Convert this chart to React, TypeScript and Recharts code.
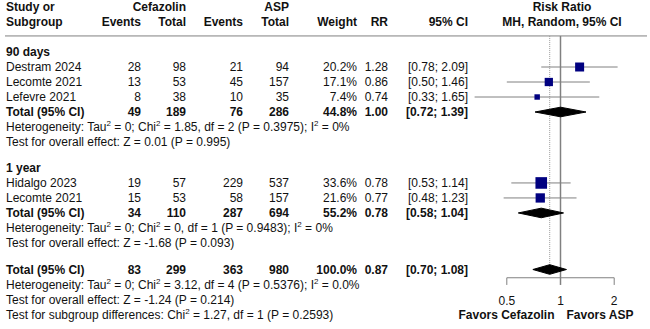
import React from 'react';
import { ComposedChart, XAxis, YAxis, Scatter, ErrorBar, ReferenceLine } from 'recharts';

// ---------- data ----------
const groupLabels = ['90 days', '1 year'];
const studyNames = ['Destram 2024', 'Lecomte 2021', 'Lefevre 2021', 'Hidalgo 2023', 'Lecomte 2021'];
const studyGroup = [0, 0, 0, 1, 1];
const cefEvents = [28, 13, 8, 19, 15];
const cefTotal = [98, 53, 38, 57, 53];
const aspEvents = [21, 45, 10, 229, 58];
const aspTotal = [94, 157, 35, 537, 157];
const studyWeight = [20.2, 17.1, 7.4, 33.6, 21.6];
const studyRR = [1.28, 0.86, 0.74, 0.78, 0.77];
const studyLow = [0.78, 0.5, 0.33, 0.53, 0.48];
const studyHigh = [2.09, 1.46, 1.65, 1.14, 1.23];

// subgroup totals (90 days, 1 year) then overall
const totCefEvents = [49, 34, 83];
const totCefTotal = [189, 110, 299];
const totAspEvents = [76, 287, 363];
const totAspTotal = [286, 694, 980];
const totWeight = [44.8, 55.2, 100.0];
const totRR = [1.0, 0.78, 0.87];
const totLow = [0.72, 0.58, 0.7];
const totHigh = [1.39, 1.04, 1.08];
const heterogeneity = [
  'Heterogeneity: Tau^2 = 0; Chi^2 = 1.85, df = 2 (P = 0.3975); I^2 = 0%',
  'Heterogeneity: Tau^2 = 0; Chi^2 = 0, df = 1 (P = 0.9483); I^2 = 0%',
  'Heterogeneity: Tau^2 = 0; Chi^2 = 3.12, df = 4 (P = 0.5376); I^2 = 0.0%',
];
const overallEffect = [
  'Test for overall effect: Z = 0.01 (P = 0.995)',
  'Test for overall effect: Z = -1.68 (P = 0.093)',
  'Test for overall effect: Z = -1.24 (P = 0.214)',
];
const subgroupTest = 'Test for subgroup differences: Chi^2 = 1.27, df = 1 (P = 0.2593)';
const xTicks = [0.5, 1, 2];
const xTickLabels = ['0.5', '1', '2'];
const favorsLabels = ['Favors Cefazolin', 'Favors ASP'];

// ---------- layout constants ----------
const W = 650;
const H = 329;
const FONT = 'Liberation Sans, Arial, sans-serif';
const FS = 12;
const COL = { study: 6, cefEv: 141, cefTot: 186, aspEv: 243, aspTot: 289, weight: 357, rr: 388, ci: 468, plotCenter: 562 };
const PLOT_L = 5;
const PLOT_R = 3;
const PX_ONE = 560.5;
const PX_PER_DOUBLING = 53.7;
const X_LO = Math.pow(2, (PLOT_L - PX_ONE) / PX_PER_DOUBLING);
const X_HI = Math.pow(2, (W - PLOT_R - PX_ONE) / PX_PER_DOUBLING);
const ROW_PX = 15;
const TOP_PX = 7;
const Y_LO = -TOP_PX / ROW_PX;
const Y_HI = Y_LO + H / ROW_PX;
const HEADER_LINE_ROW = 1.93;
const AXIS_ROW = 18.05;
const TICK_END_ROW = 18.53;
const TICK_LABEL_ROW = 19.6;
const DIAMOND_HALF = 0.32;

const fmtCI = (lo: number, hi: number) => `[${lo.toFixed(2)}; ${hi.toFixed(2)}]`;

// ---------- build rows ----------
type Row = { x: number; y: number; kind: string; cells?: any; text?: string };
const tableRows: Row[] = [];
const studyPoints: any[] = [];
const diamonds: any[][] = [];

let r = 0;
tableRows.push({ x: 1, y: r, kind: 'header0' });
r += 1;
tableRows.push({ x: 1, y: r, kind: 'header1' });
r += 2;
const groupGap = [0.73, 0.77];
groupLabels.forEach((g, gi) => {
  tableRows.push({ x: 1, y: r, kind: 'group', text: g });
  r += 1;
  studyNames.forEach((name, i) => {
    if (studyGroup[i] !== gi) return;
    tableRows.push({
      x: 1, y: r, kind: 'study',
      cells: [name, cefEvents[i], cefTotal[i], aspEvents[i], aspTotal[i], studyWeight[i].toFixed(1) + '%', studyRR[i].toFixed(2), fmtCI(studyLow[i], studyHigh[i])],
    });
    studyPoints.push({ x: studyRR[i], y: r, w: studyWeight[i], err: [studyRR[i] - studyLow[i], studyHigh[i] - studyRR[i]] });
    r += 1;
  });
  tableRows.push({
    x: 1, y: r, kind: 'total',
    cells: ['Total (95% CI)', totCefEvents[gi], totCefTotal[gi], totAspEvents[gi], totAspTotal[gi], totWeight[gi].toFixed(1) + '%', totRR[gi].toFixed(2), fmtCI(totLow[gi], totHigh[gi])],
  });
  diamonds.push([
    { x: totLow[gi], y: r }, { x: totRR[gi], y: r - DIAMOND_HALF }, { x: totHigh[gi], y: r }, { x: totRR[gi], y: r + DIAMOND_HALF }, { x: totLow[gi], y: r },
  ]);
  r += 1;
  tableRows.push({ x: 1, y: r, kind: 'note', text: heterogeneity[gi] });
  r += 1;
  tableRows.push({ x: 1, y: r, kind: 'note', text: overallEffect[gi] });
  r += 1 + groupGap[gi];
});
const OV = 2;
const overallRow = r;
tableRows.push({
  x: 1, y: r, kind: 'total',
  cells: ['Total (95% CI)', totCefEvents[OV], totCefTotal[OV], totAspEvents[OV], totAspTotal[OV], totWeight[OV].toFixed(1) + '%', totRR[OV].toFixed(2), fmtCI(totLow[OV], totHigh[OV])],
});
diamonds.push([
  { x: totLow[OV], y: r }, { x: totRR[OV], y: r - DIAMOND_HALF }, { x: totHigh[OV], y: r }, { x: totRR[OV], y: r + DIAMOND_HALF }, { x: totLow[OV], y: r },
]);
r += 1;
tableRows.push({ x: 1, y: r, kind: 'note', text: heterogeneity[OV] });
r += 1;
tableRows.push({ x: 1, y: r, kind: 'note', text: overallEffect[OV] });
r += 1;
tableRows.push({ x: 1, y: r, kind: 'note', text: subgroupTest });
tableRows.push({ x: 1, y: r, kind: 'favors' });

const tickPoints = xTicks.map((t, i) => ({ x: t, y: TICK_LABEL_ROW, label: xTickLabels[i] }));

// ---------- rendering helpers ----------
const renderSup = (s: string) => {
  const parts = s.split('^2');
  const out: any[] = [];
  parts.forEach((p, i) => {
    out.push(<tspan key={'p' + i} dy={i > 0 ? 4 : 0}>{p}</tspan>);
    if (i < parts.length - 1) out.push(<tspan key={'s' + i} dy={-4} fontSize={8}>2</tspan>);
  });
  return out;
};

const T = (props: any) => (
  <text fontFamily={FONT} fontSize={FS} fill="#111" dominantBaseline="central" {...props} />
);

const TableShape = (props: any) => {
  const { cy, cx, payload } = props;
  const k = payload.kind;
  if (k === 'header0') {
    return (
      <g>
        <T x={COL.study} y={cy} fontWeight="bold">Study or</T>
        <T x={COL.cefTot} y={cy} textAnchor="end" fontWeight="bold">Cefazolin</T>
        <T x={COL.aspTot} y={cy} textAnchor="end" fontWeight="bold">ASP</T>
        <T x={COL.plotCenter} y={cy} textAnchor="middle" fontWeight="bold">Risk Ratio</T>
      </g>
    );
  }
  if (k === 'header1') {
    return (
      <g>
        <T x={COL.study} y={cy} fontWeight="bold">Subgroup</T>
        <T x={COL.cefEv} y={cy} textAnchor="end" fontWeight="bold">Events</T>
        <T x={COL.cefTot} y={cy} textAnchor="end" fontWeight="bold">Total</T>
        <T x={COL.aspEv} y={cy} textAnchor="end" fontWeight="bold">Events</T>
        <T x={COL.aspTot} y={cy} textAnchor="end" fontWeight="bold">Total</T>
        <T x={COL.weight} y={cy} textAnchor="end" fontWeight="bold">Weight</T>
        <T x={COL.rr} y={cy} textAnchor="end" fontWeight="bold">RR</T>
        <T x={COL.ci} y={cy} textAnchor="end" fontWeight="bold">95% CI</T>
        <T x={COL.plotCenter} y={cy} textAnchor="middle" fontWeight="bold">MH, Random, 95% CI</T>
      </g>
    );
  }
  if (k === 'group') {
    return <T x={COL.study} y={cy} fontWeight="bold">{payload.text}</T>;
  }
  if (k === 'study' || k === 'total') {
    const c = payload.cells;
    const fw = k === 'total' ? 'bold' : 'normal';
    const xs = [COL.cefEv, COL.cefTot, COL.aspEv, COL.aspTot, COL.weight, COL.rr, COL.ci];
    return (
      <g>
        <T x={COL.study} y={cy} fontWeight={fw}>{c[0]}</T>
        {xs.map((x, i) => (
          <T key={i} x={x} y={cy} textAnchor="end" fontWeight={fw}>{c[i + 1]}</T>
        ))}
      </g>
    );
  }
  if (k === 'note') {
    return <T x={COL.study} y={cy}>{renderSup(payload.text)}</T>;
  }
  if (k === 'favors') {
    return (
      <g>
        <T x={cx - 6} y={cy} textAnchor="end" fontWeight="bold">{favorsLabels[0]}</T>
        <T x={cx + 6} y={cy} textAnchor="start" fontWeight="bold">{favorsLabels[1]}</T>
      </g>
    );
  }
  return <g />;
};

const SquareShape = (props: any) => {
  const { cx, cy, payload } = props;
  const s = 2 * Math.sqrt(payload.w);
  return <rect x={cx - s / 2} y={cy - s / 2} width={s} height={s} fill="#000080" />;
};

const TickLabelShape = (props: any) => {
  const { cx, cy, payload } = props;
  return <T x={cx} y={cy} textAnchor="middle">{payload.label}</T>;
};

const Empty = () => <g />;

export default function App() {
  return (
    <div style={{ position: 'absolute', left: 0, top: 0, width: W, height: H, background: '#fff' }}>
      <ComposedChart width={W} height={H} margin={{ top: 0, right: PLOT_R, bottom: 0, left: PLOT_L }}>
        <XAxis type="number" dataKey="x" scale="log" domain={[X_LO, X_HI]} allowDataOverflow hide />
        <YAxis type="number" dataKey="y" domain={[Y_LO, Y_HI]} allowDataOverflow reversed hide />
        <ReferenceLine y={HEADER_LINE_ROW} stroke="#808080" strokeWidth={1} />
        <ReferenceLine segment={[{ x: 1, y: HEADER_LINE_ROW }, { x: 1, y: TICK_END_ROW }]} stroke="#808080" strokeWidth={1.5} />
        <ReferenceLine segment={[{ x: totRR[OV], y: HEADER_LINE_ROW }, { x: totRR[OV], y: overallRow }]} stroke="#9a9a9a" strokeWidth={1} strokeDasharray="1 1" />
        <ReferenceLine segment={[{ x: xTicks[0], y: AXIS_ROW }, { x: xTicks[2], y: AXIS_ROW }]} stroke="#808080" strokeWidth={1} />
        <ReferenceLine segment={[{ x: xTicks[0], y: AXIS_ROW }, { x: xTicks[0], y: TICK_END_ROW }]} stroke="#808080" strokeWidth={1} />
        <ReferenceLine segment={[{ x: xTicks[2], y: AXIS_ROW }, { x: xTicks[2], y: TICK_END_ROW }]} stroke="#808080" strokeWidth={1} />
        <Scatter data={tableRows} shape={TableShape} isAnimationActive={false} />
        <Scatter data={tickPoints} shape={TickLabelShape} isAnimationActive={false} />
        {diamonds.map((d, i) => (
          <Scatter key={'d' + i} data={d} shape={Empty} line={{ stroke: '#000', fill: '#000', strokeWidth: 1 }} lineType="joint" isAnimationActive={false} />
        ))}
        <Scatter data={studyPoints} shape={SquareShape} isAnimationActive={false}>
          <ErrorBar dataKey="err" direction="x" width={0} stroke="#808080" strokeWidth={1} isAnimationActive={false} />
        </Scatter>
      </ComposedChart>
    </div>
  );
}
